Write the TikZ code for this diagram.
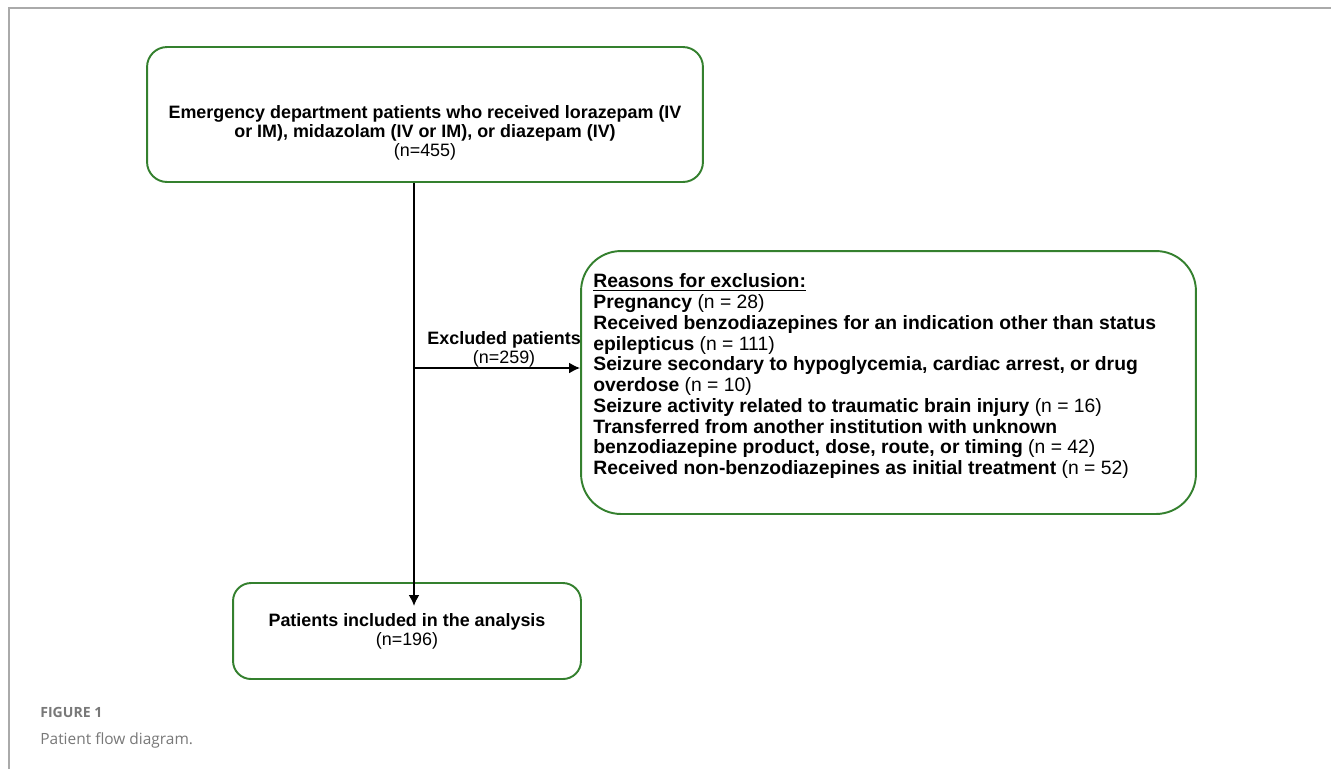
\documentclass[tikz,border=0pt]{standalone}
\usepackage{fontspec}
\setmainfont{Liberation Sans}
\newfontfamily\capfont{Open Sans}
\usepackage{tikz}
\usetikzlibrary{arrows.meta,calc,positioning}
\definecolor{boxgreen}{RGB}{52,128,46}
\definecolor{framegray}{RGB}{170,170,170}
\definecolor{capgray}{RGB}{120,120,120}
\tikzset{
    flowbox/.style={draw=boxgreen, line width=1.1pt, rounded corners=#1},
    flowbox/.default=0.4cm,
    flowline/.style={line width=1.1pt, -{Latex[length=2.2mm,width=2.2mm]}}
}

\begin{document}
\begin{tikzpicture}[x=0.02cm,y=-0.02cm]
\useasboundingbox (0,0) rectangle (1331,769);
% page frame
\draw[framegray, line width=0.9pt] (9,769) -- (9,8) -- (1331,8);
% boxes
\node[flowbox, minimum width=11.12cm, minimum height=2.7cm] (start) at (425,114.5) {};
\node[anchor=base, align=center, font=\fontsize{10.2}{10.8}\selectfont] (start-txt) at (425,156.5)
    {\textbf{Emergency department patients who received lorazepam (IV}\\
     \textbf{or IM), midazolam (IV or IM), or diazepam (IV)}\\ (n=455)};
\node[flowbox=0.8cm, minimum width=12.3cm, minimum height=5.26cm] (excl) at (888.5,382.5) {};
\node[anchor=base west, inner sep=0, align=left, font=\fontsize{11}{11.8}\selectfont] (excl-txt) at (593,474.5)
    {\textbf{\underline{Reasons for exclusion:}}\\
     \textbf{Pregnancy} (n = 28)\\
     \textbf{Received benzodiazepines for an indication other than status}\\
     \textbf{epilepticus} (n = 111)\\
     \textbf{Seizure secondary to hypoglycemia, cardiac arrest, or drug}\\
     \textbf{overdose} (n = 10)\\
     \textbf{Seizure activity related to traumatic brain injury} (n = 16)\\
     \textbf{Transferred from another institution with unknown}\\
     \textbf{benzodiazepine product, dose, route, or timing} (n = 42)\\
     \textbf{Received non-benzodiazepines as initial treatment} (n = 52)};
\node[flowbox=0.36cm, minimum width=6.96cm, minimum height=1.92cm, align=center,
      font=\fontsize{10.2}{10.8}\selectfont] (incl) at (407,631)
    {\textbf{Patients included in the analysis}\\ (n=196)};
% connectors
\coordinate (split) at (414,368);
\coordinate (stem) at (414,606);
\draw[line width=1.1pt] (start.south -| split) -- (split);
\draw[flowline] (split) -- (stem);
\draw[flowline] (split) -- (split -| excl.west)
    node[midway, above=-3.5pt, xshift=4pt, align=center, font=\fontsize{10.2}{10.8}\selectfont]
    {\textbf{Excluded patients}\\ (n=259)};
% caption
\node[anchor=base west, inner sep=0, text=capgray, font=\capfont\fontsize{8}{9}\selectfont\bfseries] (fig-no) at (40,717) {FIGURE 1};
\node[anchor=base west, inner sep=0, text=capgray, font=\capfont\fontsize{8.8}{10}\selectfont] (fig-cap) at (40,744) {Patient flow diagram.};
\end{tikzpicture}
\end{document}
